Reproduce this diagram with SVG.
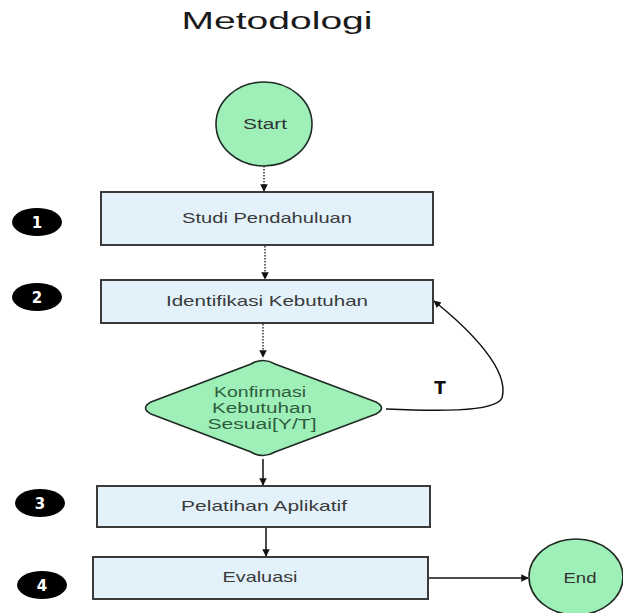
<svg xmlns="http://www.w3.org/2000/svg" width="623" height="613" viewBox="0 0 623 613">
<style>
.box{fill:#e3f2fa;stroke:#3a3a3a;stroke-width:2}
.term{fill:#9ef0b8;stroke:#1f2a22;stroke-width:1.6}
.btxt{font-family:"Liberation Sans",Arial,sans-serif;font-size:15px;fill:#3a3a3a;text-anchor:middle}
.gtxt{font-family:"Liberation Sans",Arial,sans-serif;font-size:15.5px;fill:#2f5e3f;text-anchor:middle}
.badge{fill:#000}
.num{font-family:"DejaVu Sans",sans-serif;font-weight:bold;font-size:15px;fill:#fff;text-anchor:middle}
.dot{stroke:#333;stroke-width:1.5;stroke-dasharray:1.5 1.5;fill:none}
.sol{stroke:#111;stroke-width:1.5;fill:none}
</style>
<defs>
<marker id="ah" viewBox="0 0 10 10" refX="9" refY="5" markerWidth="5" markerHeight="5" orient="auto">
<path d="M0,0 L10,5 L0,10 z" fill="#111"/>
</marker>
</defs>
<rect width="623" height="613" fill="#fff"/>
<text x="277" y="29" font-family="Liberation Sans,Arial,sans-serif" font-size="23" fill="#1a1a1a" text-anchor="middle" textLength="191" lengthAdjust="spacingAndGlyphs">Metodologi</text>

<g id="connectors">
<line class="dot" x1="264" y1="166" x2="264" y2="191" marker-end="url(#ah)"/>
<line class="dot" x1="265" y1="246" x2="265" y2="279" marker-end="url(#ah)"/>
<line class="dot" x1="263" y1="324" x2="263" y2="357" marker-end="url(#ah)"/>
<line class="sol" x1="263" y1="459" x2="263" y2="485" marker-end="url(#ah)"/>
<line class="sol" x1="266" y1="528" x2="266" y2="556" marker-end="url(#ah)"/>
<line class="sol" x1="429" y1="578" x2="528" y2="578" marker-end="url(#ah)"/>
<path class="sol" d="M386,409 C430,411 495,413 502,398 C510,370 470,330 434,301" marker-end="url(#ah)"/>
<text x="440" y="394" font-family="DejaVu Sans,sans-serif" font-weight="bold" font-size="17" fill="#111" text-anchor="middle">T</text>
</g>

<g id="start">
<ellipse class="term" cx="264" cy="124" rx="48" ry="42"/>
<text class="gtxt" x="265" y="129" fill="#333" style="fill:#333" textLength="44" lengthAdjust="spacingAndGlyphs">Start</text>
</g>

<g id="badge1"><ellipse class="badge" cx="37" cy="222" rx="25" ry="14"/><text class="num" x="37" y="228">1</text></g>
<g id="badge2"><ellipse class="badge" cx="37" cy="297" rx="25" ry="14"/><text class="num" x="37" y="303">2</text></g>
<g id="badge3"><ellipse class="badge" cx="40" cy="503" rx="25" ry="14"/><text class="num" x="40" y="509">3</text></g>
<g id="badge4"><ellipse class="badge" cx="42" cy="585" rx="25" ry="14"/><text class="num" x="42" y="591">4</text></g>

<g id="studi">
<rect class="box" x="101" y="192" width="332" height="53"/>
<text class="btxt" x="267" y="223" textLength="170" lengthAdjust="spacingAndGlyphs">Studi Pendahuluan</text>
</g>

<g id="identifikasi">
<rect class="box" x="101" y="280" width="332" height="43"/>
<text class="btxt" x="267" y="306" textLength="202" lengthAdjust="spacingAndGlyphs">Identifikasi Kebutuhan</text>
</g>

<g id="konfirmasi">
<path class="term" d="M251,364 Q263,357 275,364 L376,402 Q387,408 376,414 L275,452 Q263,459 251,452 L151,414 Q140,408 151,402 Z"/>
<text class="gtxt" x="260" y="397" textLength="92" lengthAdjust="spacingAndGlyphs">Konfirmasi</text>
<text class="gtxt" x="262" y="413" textLength="100" lengthAdjust="spacingAndGlyphs">Kebutuhan</text>
<text class="gtxt" x="262" y="429" textLength="109" lengthAdjust="spacingAndGlyphs">Sesuai[Y/T]</text>
</g>

<g id="pelatihan">
<rect class="box" x="97" y="486" width="333" height="41"/>
<text class="btxt" x="264" y="511" textLength="166" lengthAdjust="spacingAndGlyphs">Pelatihan Aplikatif</text>
</g>

<g id="evaluasi">
<rect class="box" x="93" y="557" width="335" height="42"/>
<text class="btxt" x="260" y="582" textLength="75" lengthAdjust="spacingAndGlyphs">Evaluasi</text>
</g>

<g id="end">
<ellipse class="term" cx="576" cy="577" rx="47" ry="38"/>
<text class="gtxt" x="580" y="583" style="fill:#333" textLength="33" lengthAdjust="spacingAndGlyphs">End</text>
</g>
</svg>
